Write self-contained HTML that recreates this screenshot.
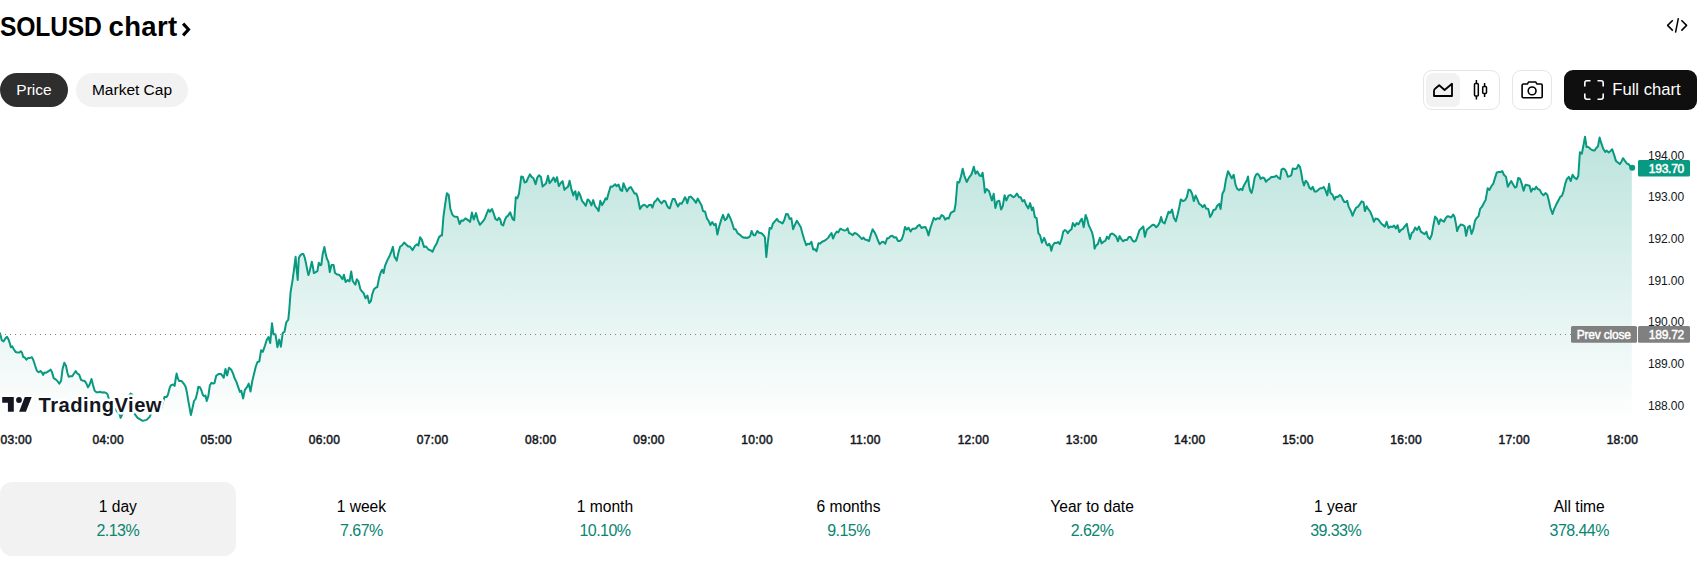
<!DOCTYPE html>
<html><head><meta charset="utf-8"><title>SOLUSD chart</title>
<style>
html,body{margin:0;padding:0;background:#fff;}
body{width:1705px;height:568px;position:relative;overflow:hidden;font-family:"Liberation Sans",Arial,sans-serif;color:#131722;}
.abs{position:absolute;}
#title{position:absolute;left:0;top:9.7px;width:200px;height:34px;font-size:27.5px;font-weight:bold;color:#000;line-height:34px;white-space:nowrap}
#t1{position:absolute;left:0px;top:0;transform-origin:0 0;transform:scaleX(0.897);letter-spacing:-0.2px}
#t2{position:absolute;left:108.6px;top:0;letter-spacing:0.3px}
.pill{position:absolute;top:73px;height:34px;border-radius:17px;font-size:15.5px;line-height:34px;white-space:nowrap;box-sizing:border-box;text-align:center}
#p1{left:0;width:68px;background:#2e2e2e;color:#fff}
#p2{left:76px;width:112px;background:#f2f2f2;color:#000}
#grp{position:absolute;left:1423px;top:70px;width:77px;height:40px;box-sizing:border-box;border:1px solid #e6e6e6;border-radius:9px}
#grpsel{position:absolute;left:1426px;top:73px;width:34px;height:34px;background:#f2f2f2;border-radius:7px}
#cam{position:absolute;left:1512px;top:70px;width:40px;height:40px;box-sizing:border-box;border:1px solid #e6e6e6;border-radius:9px}
#full{position:absolute;left:1564px;top:70px;width:133px;height:40px;background:#0f0f0f;border-radius:9px}
#fulltxt{position:absolute;left:1612.3px;top:70px;line-height:40px;font-size:16.6px;color:#fff;white-space:nowrap}
#chart{position:absolute;left:0;top:0}
.tab{position:absolute;top:482px;width:235.6px;height:74px;border-radius:12px;text-align:center}
.tab.sel{background:#f2f2f2}
.tl{position:absolute;left:0;right:0;top:15px;font-size:15.6px;line-height:20px;color:#000;white-space:nowrap}
.tv{position:absolute;left:0;right:0;top:39px;font-size:16px;letter-spacing:-0.55px;line-height:20px;color:#098571;white-space:nowrap}
</style></head><body>
<div id="title"><span id="t1">SOLUSD</span> <span id="t2">chart</span></div>
<svg class="abs" style="left:0;top:0" width="200" height="50"><path d="M183.1,23.6 L188.5,29.5 L183.1,35.4" fill="none" stroke="#000" stroke-width="3.1" stroke-linejoin="miter"/></svg>
<svg class="abs" style="left:1660px;top:10px" width="34" height="30" viewBox="1660 10 34 30"><path d="M1672.8,20.2 L1667.6,25.4 L1672.8,30.6 M1678.4,18.2 L1675.5,32.7 M1681.4,20.2 L1686.6,25.4 L1681.4,30.6" fill="none" stroke="#000" stroke-width="1.5" stroke-linecap="butt" stroke-linejoin="round"/></svg>
<div class="pill" id="p1">Price</div>
<div class="pill" id="p2">Market Cap</div>
<div id="grp"></div><div id="grpsel"></div>
<div id="cam"></div>
<div id="full"></div>
<div id="fulltxt">Full chart</div>
<svg class="abs" style="left:1420px;top:66px" width="280" height="48" viewBox="1420 66 280 48">
 <path d="M1434,96 L1434,91 Q1434,89.5 1435.3,88.5 L1439.2,85.3 L1444.6,90 L1452,83.8 L1452,96 Z" fill="none" stroke="#000" stroke-width="1.8" stroke-linejoin="round"/>
 <path d="M1476.4,80 V83.5 M1476.4,96 V99.6 M1484.6,83 V86.5 M1484.6,93.5 V97" stroke="#000" stroke-width="1.5" fill="none"/>
 <rect x="1474.5" y="83.5" width="3.8" height="12.5" rx="1" fill="none" stroke="#000" stroke-width="1.5"/>
 <rect x="1482.7" y="86.5" width="3.8" height="7" rx="1" fill="none" stroke="#000" stroke-width="1.5"/>
 <path d="M1523.5,84 H1527.5 L1528.5,82 H1535.8 L1536.8,84 H1541 Q1542.2,84 1542.2,85.2 V96.6 Q1542.2,97.8 1541,97.8 H1523.3 Q1522.1,97.8 1522.1,96.6 V85.2 Q1522.1,84 1523.5,84 Z" fill="none" stroke="#000" stroke-width="1.6" stroke-linejoin="round"/>
 <circle cx="1532.1" cy="90.9" r="3.9" fill="none" stroke="#000" stroke-width="1.6"/>
 <path d="M1584.8,86.5 V83 Q1584.8,80.8 1587,80.8 H1590.5 M1597.5,80.8 H1601 Q1603.2,80.8 1603.2,83 V86.5 M1603.2,93.5 V97 Q1603.2,99.2 1601,99.2 H1597.5 M1590.5,99.2 H1587 Q1584.8,99.2 1584.8,97 V93.5" fill="none" stroke="#fff" stroke-width="1.6"/>
</svg>
<svg id="chart" width="1705" height="470" viewBox="0 0 1705 470">
 <defs>
  <linearGradient id="g" x1="0" y1="130" x2="0" y2="424" gradientUnits="userSpaceOnUse">
   <stop offset="0" stop-color="#089981" stop-opacity="0.28"/>
   <stop offset="1" stop-color="#089981" stop-opacity="0"/>
  </linearGradient>
 </defs>
 <path d="M0.0,333.2 L1.8,340.2 L3.5,341.5 L5.3,338.5 L7.0,336.7 L8.5,339.4 L9.7,342.9 L10.9,347.3 L12.3,346.4 L14.1,349.9 L15.8,352.0 L17.6,352.6 L19.4,352.6 L20.8,351.3 L22.0,352.6 L23.2,357.0 L24.6,357.3 L26.4,359.6 L28.2,357.9 L29.9,357.9 L32.0,357.3 L33.5,360.5 L35.2,365.8 L37.0,371.0 L38.7,372.3 L40.5,371.0 L41.9,372.5 L43.1,374.9 L44.4,372.5 L45.8,372.8 L47.5,371.9 L49.3,370.7 L50.7,369.6 L51.9,371.9 L53.7,378.1 L55.5,379.3 L57.2,380.7 L59.3,383.7 L61.1,380.7 L62.5,369.3 L64.3,362.8 L66.0,365.8 L67.4,372.8 L68.7,376.7 L70.4,376.3 L72.2,376.3 L73.9,373.7 L75.7,371.1 L77.5,373.7 L79.2,374.6 L81.0,379.9 L82.7,380.7 L84.5,380.7 L86.3,383.4 L88.0,387.3 L89.8,384.3 L91.5,379.0 L93.0,385.1 L94.7,390.8 L96.5,392.2 L98.6,392.2 L100.0,391.8 L102.1,392.6 L104.5,392.3 L106.4,393.1 L107.7,394.7 L108.7,398.4 L114.0,408.0 L119.6,414.0 L120.6,417.9 L122.1,414.9 L124.1,406.9 L127.0,399.0 L130.6,393.5 L132.1,394.5 L133.1,398.4 L134.6,413.9 L137.6,417.9 L142.6,420.9 L146.6,419.9 L149.6,416.9 L151.5,412.9 L155.0,410.0 L159.5,409.9 L161.0,408.9 L162.5,403.9 L164.5,396.9 L166.6,397.0 L167.9,394.7 L169.8,387.5 L171.0,385.2 L173.4,384.4 L174.6,386.0 L175.8,378.0 L176.6,373.6 L177.7,378.0 L179.0,380.9 L181.4,380.9 L183.7,383.6 L185.6,386.8 L186.9,392.3 L188.5,401.8 L190.9,415.0 L192.5,408.1 L194.0,401.0 L195.6,399.0 L197.2,393.1 L198.3,386.8 L199.9,387.2 L201.5,390.7 L202.8,394.7 L204.3,396.3 L205.5,395.5 L206.7,401.0 L208.3,396.3 L209.9,385.2 L211.5,382.8 L213.1,383.6 L214.5,383.0 L216.2,375.7 L218.8,373.9 L220.9,373.9 L222.3,375.7 L223.7,377.8 L225.5,369.0 L227.1,375.4 L229.0,367.8 L231.1,369.5 L232.9,373.1 L234.6,378.3 L236.4,381.9 L238.2,387.1 L239.9,391.9 L241.3,390.7 L243.1,398.6 L244.9,389.8 L247.0,387.1 L248.7,383.6 L250.5,391.5 L252.3,381.0 L254.0,373.9 L255.8,366.5 L257.5,362.0 L259.3,361.6 L261.1,350.2 L262.8,351.9 L264.9,345.8 L266.7,340.1 L268.5,337.0 L270.2,343.1 L272.0,323.2 L273.4,334.3 L275.5,334.3 L277.4,347.2 L279.2,339.6 L280.9,346.7 L282.7,333.1 L284.5,331.7 L286.2,322.5 L288.3,319.7 L289.2,310.6 L290.6,292.0 L292.7,279.3 L294.2,268.0 L295.6,256.8 L296.5,268.0 L297.7,280.0 L298.8,258.2 L300.2,255.4 L301.9,253.9 L303.3,253.9 L304.7,257.5 L306.1,263.8 L307.3,270.1 L308.4,275.1 L309.6,271.5 L311.8,261.7 L312.7,265.9 L313.9,273.0 L315.3,272.3 L317.4,271.1 L318.8,262.7 L320.2,265.2 L321.3,264.9 L322.7,253.9 L324.4,246.9 L325.8,254.6 L327.0,258.9 L328.4,261.7 L329.8,272.0 L331.5,264.9 L333.6,264.9 L335.0,273.0 L337.1,274.4 L339.2,274.8 L341.1,277.2 L342.5,279.3 L343.9,274.8 L345.6,282.1 L347.7,280.0 L349.5,281.4 L351.2,271.5 L352.6,280.7 L354.0,282.8 L355.4,284.6 L356.8,279.3 L358.5,281.4 L360.4,289.2 L361.8,291.3 L363.6,293.1 L365.6,298.3 L367.4,295.5 L369.2,303.0 L370.9,301.1 L372.3,294.1 L374.0,289.2 L375.8,287.7 L377.3,287.0 L379.1,277.9 L380.8,272.3 L382.2,269.7 L383.6,273.0 L385.0,265.9 L387.4,260.1 L389.7,255.7 L391.4,251.3 L392.9,246.9 L394.4,256.6 L396.7,260.6 L398.5,252.2 L400.2,246.5 L402.0,245.5 L404.1,242.5 L406.4,244.8 L408.2,246.5 L409.9,246.5 L412.6,250.1 L414.9,246.0 L417.0,244.3 L418.4,245.5 L420.1,237.2 L421.9,239.9 L424.0,246.9 L426.1,246.5 L428.4,249.5 L430.7,250.4 L432.5,251.8 L434.6,246.9 L436.7,243.4 L439.0,237.2 L440.7,235.5 L442.0,235.5 L443.4,217.0 L445.1,204.6 L446.9,193.2 L448.7,195.0 L450.4,209.0 L452.2,214.3 L454.3,216.6 L457.5,217.0 L459.6,224.0 L461.3,220.5 L463.1,220.8 L465.4,218.4 L468.0,220.1 L470.1,221.9 L471.9,212.6 L473.7,219.6 L476.0,213.1 L477.7,219.6 L479.9,224.8 L481.8,222.7 L483.5,220.6 L484.9,218.5 L486.5,214.2 L488.4,209.6 L489.8,211.8 L491.9,209.0 L493.3,212.4 L495.4,218.9 L497.3,220.3 L498.9,217.7 L500.4,219.9 L501.5,224.5 L503.2,225.5 L504.9,219.9 L506.3,217.0 L508.1,215.6 L510.2,212.4 L511.6,216.3 L512.7,219.2 L514.2,220.3 L515.8,197.3 L517.3,198.3 L518.9,193.8 L520.1,185.4 L521.2,176.6 L522.9,176.9 L524.6,182.5 L526.4,181.8 L528.2,177.6 L529.9,174.4 L531.6,176.9 L533.5,178.3 L535.6,184.2 L537.3,177.6 L539.1,175.2 L540.9,176.9 L542.6,186.5 L544.3,185.1 L546.1,183.2 L548.0,175.8 L549.6,183.2 L551.8,180.4 L553.6,177.6 L555.3,181.8 L557.0,177.2 L558.8,186.1 L560.6,183.2 L562.6,181.1 L564.4,189.9 L566.3,187.9 L568.0,186.8 L569.6,180.8 L571.5,189.6 L573.3,195.5 L574.2,192.4 L575.4,191.3 L576.8,199.4 L578.7,192.1 L580.1,194.9 L582.0,200.8 L583.8,203.0 L585.8,205.8 L587.6,199.4 L589.4,200.8 L591.4,205.4 L593.2,200.1 L595.1,206.2 L596.8,208.2 L598.6,211.0 L600.3,200.8 L602.1,205.1 L603.8,202.3 L605.5,198.3 L606.9,199.4 L608.7,192.7 L610.6,186.5 L612.3,186.8 L613.7,185.6 L615.1,184.2 L616.5,186.1 L618.6,184.6 L620.4,189.9 L622.1,191.0 L623.5,183.2 L625.2,187.5 L627.0,191.3 L628.9,188.2 L630.8,187.0 L632.7,190.3 L634.5,193.5 L636.2,193.5 L637.6,196.9 L639.0,203.7 L640.0,209.0 L641.8,206.2 L643.9,204.8 L645.4,205.4 L647.2,207.2 L648.9,205.1 L651.0,204.8 L652.4,207.6 L654.2,202.3 L655.9,200.8 L657.6,198.3 L659.4,200.8 L661.5,203.4 L663.7,200.8 L665.5,201.5 L667.2,205.8 L668.9,208.2 L669.9,208.2 L671.3,203.2 L672.7,199.0 L674.6,199.0 L676.3,203.2 L678.0,206.5 L679.8,203.2 L681.6,203.7 L683.3,200.8 L685.0,197.2 L686.1,199.0 L687.3,203.2 L689.0,197.2 L690.6,196.6 L692.5,198.3 L694.3,200.4 L696.0,202.8 L697.7,198.6 L699.5,201.8 L701.6,205.4 L703.0,211.0 L705.1,211.7 L707.0,218.7 L708.7,220.8 L710.4,225.1 L712.2,222.0 L714.0,225.1 L715.7,223.9 L717.4,234.6 L719.2,226.5 L721.1,220.1 L723.0,214.9 L724.9,220.1 L726.7,218.7 L728.4,214.1 L730.1,217.7 L731.9,222.3 L734.0,229.3 L735.7,229.3 L737.5,233.2 L739.6,234.6 L741.8,236.6 L743.6,237.7 L745.3,237.5 L747.0,238.0 L749.2,237.0 L750.2,236.1 L751.6,231.0 L753.5,235.2 L755.1,235.2 L757.3,231.0 L759.1,232.8 L761.5,233.2 L763.6,235.2 L764.9,237.2 L766.3,256.9 L767.7,243.5 L769.6,228.0 L771.3,228.7 L773.0,223.5 L774.8,221.3 L776.9,218.9 L778.6,221.3 L780.4,222.1 L782.5,223.5 L784.2,220.3 L786.1,213.9 L787.9,214.2 L789.6,218.9 L791.3,218.2 L793.1,229.2 L794.9,224.9 L796.9,220.7 L798.7,223.8 L800.8,227.3 L802.5,233.7 L804.4,240.0 L806.2,245.2 L807.9,243.8 L809.6,244.2 L811.4,241.8 L813.2,249.4 L814.9,249.2 L816.6,251.3 L818.5,243.2 L820.3,243.5 L822.0,241.8 L824.1,241.0 L826.2,239.6 L828.3,237.6 L830.1,234.8 L831.5,233.0 L833.0,238.6 L834.6,234.8 L836.8,231.5 L838.2,232.5 L840.3,228.7 L842.4,229.7 L844.5,230.6 L846.2,230.1 L847.6,228.3 L849.0,233.0 L850.8,233.7 L852.7,235.1 L854.6,233.0 L856.9,233.9 L858.6,235.4 L860.6,237.6 L862.0,239.0 L863.5,237.6 L865.1,239.6 L867.0,240.0 L869.1,241.0 L870.8,234.8 L872.6,229.4 L874.4,232.0 L876.1,235.4 L877.8,240.0 L879.6,244.2 L881.8,242.1 L883.5,241.8 L885.3,243.8 L887.1,238.2 L888.8,238.2 L890.5,236.2 L892.3,235.8 L894.2,237.6 L896.1,237.2 L898.0,241.0 L899.8,241.0 L901.8,239.3 L903.6,233.7 L905.0,226.9 L906.8,229.7 L908.5,227.7 L910.6,231.5 L912.5,228.7 L914.4,228.7 L916.3,228.0 L917.7,225.9 L919.5,224.9 L921.5,228.0 L923.3,227.3 L925.4,226.9 L927.1,230.6 L928.5,235.4 L930.4,228.0 L932.2,222.7 L933.9,217.9 L935.6,219.6 L937.8,218.2 L939.5,218.9 L941.6,215.1 L943.5,216.1 L945.1,219.6 L947.3,217.9 L948.7,218.5 L950.8,212.8 L952.5,211.8 L954.3,211.1 L955.6,204.0 L957.4,182.0 L959.2,182.5 L960.9,176.7 L962.7,168.8 L964.4,175.8 L966.7,182.0 L969.0,177.6 L971.5,174.4 L973.8,166.7 L975.5,173.7 L977.3,171.4 L979.6,175.5 L981.3,176.2 L982.6,172.7 L983.8,182.0 L984.9,192.6 L986.6,189.0 L989.1,191.3 L991.9,200.5 L993.7,193.8 L995.4,207.9 L997.2,201.4 L999.3,200.8 L1001.1,209.6 L1002.8,206.1 L1004.6,195.2 L1006.3,200.5 L1008.5,195.6 L1010.7,194.9 L1013.4,197.3 L1015.1,196.1 L1016.9,193.5 L1019.0,197.3 L1020.8,197.3 L1022.5,201.4 L1024.3,200.1 L1026.1,204.9 L1028.3,208.4 L1030.1,203.1 L1031.9,210.2 L1033.1,207.5 L1034.9,217.2 L1036.6,218.1 L1038.4,233.1 L1040.1,235.4 L1041.9,242.7 L1044.2,237.8 L1046.5,244.2 L1047.8,245.5 L1049.2,243.7 L1050.4,246.2 L1051.3,250.7 L1052.7,245.5 L1054.6,242.7 L1056.3,243.1 L1058.0,242.0 L1059.8,244.1 L1061.6,239.2 L1063.3,231.4 L1065.0,230.0 L1066.4,231.0 L1067.8,233.2 L1069.6,230.7 L1071.5,229.3 L1072.9,223.0 L1074.9,226.2 L1076.7,223.0 L1078.5,224.4 L1080.2,221.1 L1081.9,218.7 L1083.7,227.2 L1085.6,214.9 L1087.3,219.4 L1088.9,225.8 L1090.4,228.6 L1092.2,232.8 L1093.6,239.2 L1094.6,248.7 L1096.0,245.5 L1097.8,244.1 L1099.9,237.7 L1101.6,243.4 L1103.5,241.7 L1105.3,240.8 L1107.0,236.6 L1108.7,238.9 L1110.5,234.2 L1112.3,233.5 L1114.3,234.9 L1116.1,236.6 L1118.0,241.3 L1119.6,236.1 L1121.3,239.2 L1123.2,241.3 L1125.0,239.9 L1127.0,239.9 L1128.8,237.0 L1130.6,237.0 L1132.3,240.3 L1134.0,241.7 L1135.8,240.8 L1137.7,235.6 L1139.4,230.4 L1141.5,228.2 L1143.3,226.5 L1144.9,236.8 L1146.8,229.7 L1148.5,228.3 L1150.6,226.5 L1152.7,224.8 L1154.4,225.1 L1156.2,227.3 L1158.0,225.5 L1159.7,222.3 L1161.1,217.0 L1162.5,222.0 L1164.6,223.4 L1166.5,218.0 L1168.5,211.8 L1170.3,212.8 L1172.1,209.6 L1173.8,217.7 L1175.9,221.3 L1177.7,214.2 L1179.4,206.5 L1180.8,199.4 L1183.0,201.1 L1185.1,200.1 L1186.8,197.3 L1188.6,189.6 L1190.4,190.3 L1192.1,193.8 L1193.8,201.1 L1195.6,195.5 L1197.5,199.7 L1199.2,203.9 L1200.8,204.8 L1202.7,207.2 L1204.5,204.8 L1206.2,208.6 L1208.3,209.0 L1210.1,217.0 L1211.8,214.2 L1213.5,210.0 L1215.4,209.6 L1217.2,205.8 L1219.2,203.9 L1220.6,209.0 L1222.4,193.8 L1224.2,190.3 L1225.9,179.7 L1228.0,171.3 L1229.9,174.8 L1231.8,178.3 L1233.7,174.8 L1235.5,184.6 L1237.2,188.9 L1239.2,190.1 L1240.6,188.7 L1242.3,190.1 L1243.7,185.9 L1245.6,182.4 L1247.0,179.9 L1248.0,176.5 L1249.1,185.9 L1250.2,190.8 L1251.6,193.0 L1253.0,187.3 L1254.7,177.5 L1256.1,174.6 L1257.5,173.7 L1259.2,175.4 L1260.6,178.9 L1262.5,177.5 L1264.3,178.2 L1266.0,181.7 L1267.7,179.9 L1269.5,178.9 L1271.3,177.0 L1273.3,177.0 L1275.1,176.5 L1276.5,175.6 L1278.0,177.5 L1280.1,178.9 L1281.5,169.7 L1283.2,168.6 L1285.0,169.7 L1286.4,172.3 L1287.8,176.8 L1289.9,176.1 L1291.3,175.1 L1292.7,168.6 L1294.9,169.0 L1296.7,168.6 L1298.4,164.8 L1300.1,167.2 L1301.2,172.5 L1302.6,181.0 L1304.0,185.5 L1305.7,180.7 L1307.5,182.7 L1309.4,187.7 L1311.1,189.4 L1312.7,186.9 L1314.6,191.5 L1316.4,191.5 L1318.4,189.7 L1320.2,188.3 L1322.0,188.3 L1323.7,186.9 L1325.4,190.1 L1327.3,195.4 L1329.1,183.8 L1330.5,193.0 L1332.5,194.8 L1334.5,199.6 L1335.9,196.8 L1337.7,197.0 L1339.6,195.1 L1341.3,196.1 L1343.0,199.9 L1344.4,202.1 L1345.8,202.1 L1347.2,200.7 L1348.6,206.6 L1350.0,209.4 L1351.1,211.5 L1352.5,215.8 L1354.2,211.5 L1356.1,207.7 L1357.9,206.9 L1359.9,204.1 L1361.7,201.3 L1363.5,202.1 L1364.9,211.1 L1366.6,206.3 L1368.3,209.2 L1370.1,211.5 L1372.0,215.8 L1373.9,221.8 L1375.4,218.6 L1377.6,219.0 L1379.3,220.7 L1381.0,223.2 L1382.8,224.9 L1384.9,226.6 L1386.6,221.8 L1388.5,228.0 L1390.3,226.6 L1392.3,227.0 L1394.1,225.6 L1395.9,228.5 L1397.6,225.2 L1399.3,232.0 L1401.1,229.9 L1403.0,228.9 L1404.9,226.1 L1406.8,223.8 L1408.2,231.3 L1410.0,239.0 L1411.7,233.1 L1413.4,231.7 L1415.2,227.5 L1417.0,229.9 L1419.0,226.6 L1420.8,231.7 L1423.0,233.1 L1424.6,234.1 L1426.4,231.8 L1427.8,236.8 L1429.9,239.2 L1431.8,234.6 L1433.2,226.2 L1435.1,216.6 L1437.0,218.9 L1438.8,224.1 L1440.5,219.4 L1442.2,220.6 L1444.0,221.7 L1445.8,218.0 L1447.5,216.3 L1449.2,216.6 L1451.1,217.5 L1453.2,214.6 L1454.6,217.0 L1456.0,224.1 L1457.1,231.1 L1458.8,226.9 L1460.9,224.5 L1463.0,225.1 L1464.7,226.5 L1466.1,235.8 L1468.0,227.3 L1469.8,225.9 L1471.5,233.9 L1473.2,229.7 L1475.0,220.8 L1476.8,217.7 L1478.5,216.3 L1480.2,208.6 L1482.0,206.8 L1483.9,203.0 L1485.6,200.1 L1487.7,188.2 L1489.5,189.9 L1491.2,186.5 L1493.3,183.7 L1495.1,177.6 L1496.8,172.4 L1498.9,172.0 L1500.8,172.0 L1502.2,171.0 L1503.9,174.8 L1506.0,176.9 L1507.8,186.8 L1509.5,183.7 L1511.2,181.1 L1513.0,184.2 L1514.9,187.5 L1516.5,186.8 L1518.2,178.0 L1520.1,179.0 L1521.9,184.2 L1523.6,190.7 L1525.5,184.7 L1527.6,185.2 L1529.5,185.8 L1531.1,191.8 L1532.7,188.6 L1534.6,189.4 L1536.2,186.7 L1537.7,189.0 L1539.8,189.9 L1541.4,193.1 L1543.5,195.3 L1545.4,193.1 L1547.3,194.7 L1548.8,200.5 L1550.4,208.0 L1552.5,214.0 L1554.1,209.2 L1556.1,204.8 L1558.4,200.5 L1560.4,196.6 L1562.0,195.8 L1563.6,191.0 L1565.2,183.9 L1566.8,179.1 L1568.8,176.8 L1570.7,181.0 L1572.6,174.7 L1574.7,177.9 L1576.7,179.1 L1578.3,176.0 L1579.9,152.2 L1581.8,153.8 L1583.4,145.8 L1585.0,136.7 L1586.6,147.1 L1588.5,147.1 L1590.5,149.0 L1592.6,150.3 L1594.5,150.6 L1596.1,148.2 L1598.0,146.2 L1599.6,137.6 L1601.1,142.7 L1603.2,148.7 L1605.3,151.9 L1606.8,150.6 L1608.7,152.5 L1610.6,150.9 L1612.2,149.3 L1614.3,155.4 L1615.9,160.9 L1617.9,162.5 L1619.8,164.1 L1621.4,161.7 L1623.0,158.2 L1624.9,160.9 L1627.0,163.6 L1629.0,164.5 L1630.6,167.1 L1631.8,167.7 L1631.8,424 L0,424 Z" fill="url(#g)" stroke="none"/>
 <path d="M0.0,333.2 L1.8,340.2 L3.5,341.5 L5.3,338.5 L7.0,336.7 L8.5,339.4 L9.7,342.9 L10.9,347.3 L12.3,346.4 L14.1,349.9 L15.8,352.0 L17.6,352.6 L19.4,352.6 L20.8,351.3 L22.0,352.6 L23.2,357.0 L24.6,357.3 L26.4,359.6 L28.2,357.9 L29.9,357.9 L32.0,357.3 L33.5,360.5 L35.2,365.8 L37.0,371.0 L38.7,372.3 L40.5,371.0 L41.9,372.5 L43.1,374.9 L44.4,372.5 L45.8,372.8 L47.5,371.9 L49.3,370.7 L50.7,369.6 L51.9,371.9 L53.7,378.1 L55.5,379.3 L57.2,380.7 L59.3,383.7 L61.1,380.7 L62.5,369.3 L64.3,362.8 L66.0,365.8 L67.4,372.8 L68.7,376.7 L70.4,376.3 L72.2,376.3 L73.9,373.7 L75.7,371.1 L77.5,373.7 L79.2,374.6 L81.0,379.9 L82.7,380.7 L84.5,380.7 L86.3,383.4 L88.0,387.3 L89.8,384.3 L91.5,379.0 L93.0,385.1 L94.7,390.8 L96.5,392.2 L98.6,392.2 L100.0,391.8 L102.1,392.6 L104.5,392.3 L106.4,393.1 L107.7,394.7 L108.7,398.4 L114.0,408.0 L119.6,414.0 L120.6,417.9 L122.1,414.9 L124.1,406.9 L127.0,399.0 L130.6,393.5 L132.1,394.5 L133.1,398.4 L134.6,413.9 L137.6,417.9 L142.6,420.9 L146.6,419.9 L149.6,416.9 L151.5,412.9 L155.0,410.0 L159.5,409.9 L161.0,408.9 L162.5,403.9 L164.5,396.9 L166.6,397.0 L167.9,394.7 L169.8,387.5 L171.0,385.2 L173.4,384.4 L174.6,386.0 L175.8,378.0 L176.6,373.6 L177.7,378.0 L179.0,380.9 L181.4,380.9 L183.7,383.6 L185.6,386.8 L186.9,392.3 L188.5,401.8 L190.9,415.0 L192.5,408.1 L194.0,401.0 L195.6,399.0 L197.2,393.1 L198.3,386.8 L199.9,387.2 L201.5,390.7 L202.8,394.7 L204.3,396.3 L205.5,395.5 L206.7,401.0 L208.3,396.3 L209.9,385.2 L211.5,382.8 L213.1,383.6 L214.5,383.0 L216.2,375.7 L218.8,373.9 L220.9,373.9 L222.3,375.7 L223.7,377.8 L225.5,369.0 L227.1,375.4 L229.0,367.8 L231.1,369.5 L232.9,373.1 L234.6,378.3 L236.4,381.9 L238.2,387.1 L239.9,391.9 L241.3,390.7 L243.1,398.6 L244.9,389.8 L247.0,387.1 L248.7,383.6 L250.5,391.5 L252.3,381.0 L254.0,373.9 L255.8,366.5 L257.5,362.0 L259.3,361.6 L261.1,350.2 L262.8,351.9 L264.9,345.8 L266.7,340.1 L268.5,337.0 L270.2,343.1 L272.0,323.2 L273.4,334.3 L275.5,334.3 L277.4,347.2 L279.2,339.6 L280.9,346.7 L282.7,333.1 L284.5,331.7 L286.2,322.5 L288.3,319.7 L289.2,310.6 L290.6,292.0 L292.7,279.3 L294.2,268.0 L295.6,256.8 L296.5,268.0 L297.7,280.0 L298.8,258.2 L300.2,255.4 L301.9,253.9 L303.3,253.9 L304.7,257.5 L306.1,263.8 L307.3,270.1 L308.4,275.1 L309.6,271.5 L311.8,261.7 L312.7,265.9 L313.9,273.0 L315.3,272.3 L317.4,271.1 L318.8,262.7 L320.2,265.2 L321.3,264.9 L322.7,253.9 L324.4,246.9 L325.8,254.6 L327.0,258.9 L328.4,261.7 L329.8,272.0 L331.5,264.9 L333.6,264.9 L335.0,273.0 L337.1,274.4 L339.2,274.8 L341.1,277.2 L342.5,279.3 L343.9,274.8 L345.6,282.1 L347.7,280.0 L349.5,281.4 L351.2,271.5 L352.6,280.7 L354.0,282.8 L355.4,284.6 L356.8,279.3 L358.5,281.4 L360.4,289.2 L361.8,291.3 L363.6,293.1 L365.6,298.3 L367.4,295.5 L369.2,303.0 L370.9,301.1 L372.3,294.1 L374.0,289.2 L375.8,287.7 L377.3,287.0 L379.1,277.9 L380.8,272.3 L382.2,269.7 L383.6,273.0 L385.0,265.9 L387.4,260.1 L389.7,255.7 L391.4,251.3 L392.9,246.9 L394.4,256.6 L396.7,260.6 L398.5,252.2 L400.2,246.5 L402.0,245.5 L404.1,242.5 L406.4,244.8 L408.2,246.5 L409.9,246.5 L412.6,250.1 L414.9,246.0 L417.0,244.3 L418.4,245.5 L420.1,237.2 L421.9,239.9 L424.0,246.9 L426.1,246.5 L428.4,249.5 L430.7,250.4 L432.5,251.8 L434.6,246.9 L436.7,243.4 L439.0,237.2 L440.7,235.5 L442.0,235.5 L443.4,217.0 L445.1,204.6 L446.9,193.2 L448.7,195.0 L450.4,209.0 L452.2,214.3 L454.3,216.6 L457.5,217.0 L459.6,224.0 L461.3,220.5 L463.1,220.8 L465.4,218.4 L468.0,220.1 L470.1,221.9 L471.9,212.6 L473.7,219.6 L476.0,213.1 L477.7,219.6 L479.9,224.8 L481.8,222.7 L483.5,220.6 L484.9,218.5 L486.5,214.2 L488.4,209.6 L489.8,211.8 L491.9,209.0 L493.3,212.4 L495.4,218.9 L497.3,220.3 L498.9,217.7 L500.4,219.9 L501.5,224.5 L503.2,225.5 L504.9,219.9 L506.3,217.0 L508.1,215.6 L510.2,212.4 L511.6,216.3 L512.7,219.2 L514.2,220.3 L515.8,197.3 L517.3,198.3 L518.9,193.8 L520.1,185.4 L521.2,176.6 L522.9,176.9 L524.6,182.5 L526.4,181.8 L528.2,177.6 L529.9,174.4 L531.6,176.9 L533.5,178.3 L535.6,184.2 L537.3,177.6 L539.1,175.2 L540.9,176.9 L542.6,186.5 L544.3,185.1 L546.1,183.2 L548.0,175.8 L549.6,183.2 L551.8,180.4 L553.6,177.6 L555.3,181.8 L557.0,177.2 L558.8,186.1 L560.6,183.2 L562.6,181.1 L564.4,189.9 L566.3,187.9 L568.0,186.8 L569.6,180.8 L571.5,189.6 L573.3,195.5 L574.2,192.4 L575.4,191.3 L576.8,199.4 L578.7,192.1 L580.1,194.9 L582.0,200.8 L583.8,203.0 L585.8,205.8 L587.6,199.4 L589.4,200.8 L591.4,205.4 L593.2,200.1 L595.1,206.2 L596.8,208.2 L598.6,211.0 L600.3,200.8 L602.1,205.1 L603.8,202.3 L605.5,198.3 L606.9,199.4 L608.7,192.7 L610.6,186.5 L612.3,186.8 L613.7,185.6 L615.1,184.2 L616.5,186.1 L618.6,184.6 L620.4,189.9 L622.1,191.0 L623.5,183.2 L625.2,187.5 L627.0,191.3 L628.9,188.2 L630.8,187.0 L632.7,190.3 L634.5,193.5 L636.2,193.5 L637.6,196.9 L639.0,203.7 L640.0,209.0 L641.8,206.2 L643.9,204.8 L645.4,205.4 L647.2,207.2 L648.9,205.1 L651.0,204.8 L652.4,207.6 L654.2,202.3 L655.9,200.8 L657.6,198.3 L659.4,200.8 L661.5,203.4 L663.7,200.8 L665.5,201.5 L667.2,205.8 L668.9,208.2 L669.9,208.2 L671.3,203.2 L672.7,199.0 L674.6,199.0 L676.3,203.2 L678.0,206.5 L679.8,203.2 L681.6,203.7 L683.3,200.8 L685.0,197.2 L686.1,199.0 L687.3,203.2 L689.0,197.2 L690.6,196.6 L692.5,198.3 L694.3,200.4 L696.0,202.8 L697.7,198.6 L699.5,201.8 L701.6,205.4 L703.0,211.0 L705.1,211.7 L707.0,218.7 L708.7,220.8 L710.4,225.1 L712.2,222.0 L714.0,225.1 L715.7,223.9 L717.4,234.6 L719.2,226.5 L721.1,220.1 L723.0,214.9 L724.9,220.1 L726.7,218.7 L728.4,214.1 L730.1,217.7 L731.9,222.3 L734.0,229.3 L735.7,229.3 L737.5,233.2 L739.6,234.6 L741.8,236.6 L743.6,237.7 L745.3,237.5 L747.0,238.0 L749.2,237.0 L750.2,236.1 L751.6,231.0 L753.5,235.2 L755.1,235.2 L757.3,231.0 L759.1,232.8 L761.5,233.2 L763.6,235.2 L764.9,237.2 L766.3,256.9 L767.7,243.5 L769.6,228.0 L771.3,228.7 L773.0,223.5 L774.8,221.3 L776.9,218.9 L778.6,221.3 L780.4,222.1 L782.5,223.5 L784.2,220.3 L786.1,213.9 L787.9,214.2 L789.6,218.9 L791.3,218.2 L793.1,229.2 L794.9,224.9 L796.9,220.7 L798.7,223.8 L800.8,227.3 L802.5,233.7 L804.4,240.0 L806.2,245.2 L807.9,243.8 L809.6,244.2 L811.4,241.8 L813.2,249.4 L814.9,249.2 L816.6,251.3 L818.5,243.2 L820.3,243.5 L822.0,241.8 L824.1,241.0 L826.2,239.6 L828.3,237.6 L830.1,234.8 L831.5,233.0 L833.0,238.6 L834.6,234.8 L836.8,231.5 L838.2,232.5 L840.3,228.7 L842.4,229.7 L844.5,230.6 L846.2,230.1 L847.6,228.3 L849.0,233.0 L850.8,233.7 L852.7,235.1 L854.6,233.0 L856.9,233.9 L858.6,235.4 L860.6,237.6 L862.0,239.0 L863.5,237.6 L865.1,239.6 L867.0,240.0 L869.1,241.0 L870.8,234.8 L872.6,229.4 L874.4,232.0 L876.1,235.4 L877.8,240.0 L879.6,244.2 L881.8,242.1 L883.5,241.8 L885.3,243.8 L887.1,238.2 L888.8,238.2 L890.5,236.2 L892.3,235.8 L894.2,237.6 L896.1,237.2 L898.0,241.0 L899.8,241.0 L901.8,239.3 L903.6,233.7 L905.0,226.9 L906.8,229.7 L908.5,227.7 L910.6,231.5 L912.5,228.7 L914.4,228.7 L916.3,228.0 L917.7,225.9 L919.5,224.9 L921.5,228.0 L923.3,227.3 L925.4,226.9 L927.1,230.6 L928.5,235.4 L930.4,228.0 L932.2,222.7 L933.9,217.9 L935.6,219.6 L937.8,218.2 L939.5,218.9 L941.6,215.1 L943.5,216.1 L945.1,219.6 L947.3,217.9 L948.7,218.5 L950.8,212.8 L952.5,211.8 L954.3,211.1 L955.6,204.0 L957.4,182.0 L959.2,182.5 L960.9,176.7 L962.7,168.8 L964.4,175.8 L966.7,182.0 L969.0,177.6 L971.5,174.4 L973.8,166.7 L975.5,173.7 L977.3,171.4 L979.6,175.5 L981.3,176.2 L982.6,172.7 L983.8,182.0 L984.9,192.6 L986.6,189.0 L989.1,191.3 L991.9,200.5 L993.7,193.8 L995.4,207.9 L997.2,201.4 L999.3,200.8 L1001.1,209.6 L1002.8,206.1 L1004.6,195.2 L1006.3,200.5 L1008.5,195.6 L1010.7,194.9 L1013.4,197.3 L1015.1,196.1 L1016.9,193.5 L1019.0,197.3 L1020.8,197.3 L1022.5,201.4 L1024.3,200.1 L1026.1,204.9 L1028.3,208.4 L1030.1,203.1 L1031.9,210.2 L1033.1,207.5 L1034.9,217.2 L1036.6,218.1 L1038.4,233.1 L1040.1,235.4 L1041.9,242.7 L1044.2,237.8 L1046.5,244.2 L1047.8,245.5 L1049.2,243.7 L1050.4,246.2 L1051.3,250.7 L1052.7,245.5 L1054.6,242.7 L1056.3,243.1 L1058.0,242.0 L1059.8,244.1 L1061.6,239.2 L1063.3,231.4 L1065.0,230.0 L1066.4,231.0 L1067.8,233.2 L1069.6,230.7 L1071.5,229.3 L1072.9,223.0 L1074.9,226.2 L1076.7,223.0 L1078.5,224.4 L1080.2,221.1 L1081.9,218.7 L1083.7,227.2 L1085.6,214.9 L1087.3,219.4 L1088.9,225.8 L1090.4,228.6 L1092.2,232.8 L1093.6,239.2 L1094.6,248.7 L1096.0,245.5 L1097.8,244.1 L1099.9,237.7 L1101.6,243.4 L1103.5,241.7 L1105.3,240.8 L1107.0,236.6 L1108.7,238.9 L1110.5,234.2 L1112.3,233.5 L1114.3,234.9 L1116.1,236.6 L1118.0,241.3 L1119.6,236.1 L1121.3,239.2 L1123.2,241.3 L1125.0,239.9 L1127.0,239.9 L1128.8,237.0 L1130.6,237.0 L1132.3,240.3 L1134.0,241.7 L1135.8,240.8 L1137.7,235.6 L1139.4,230.4 L1141.5,228.2 L1143.3,226.5 L1144.9,236.8 L1146.8,229.7 L1148.5,228.3 L1150.6,226.5 L1152.7,224.8 L1154.4,225.1 L1156.2,227.3 L1158.0,225.5 L1159.7,222.3 L1161.1,217.0 L1162.5,222.0 L1164.6,223.4 L1166.5,218.0 L1168.5,211.8 L1170.3,212.8 L1172.1,209.6 L1173.8,217.7 L1175.9,221.3 L1177.7,214.2 L1179.4,206.5 L1180.8,199.4 L1183.0,201.1 L1185.1,200.1 L1186.8,197.3 L1188.6,189.6 L1190.4,190.3 L1192.1,193.8 L1193.8,201.1 L1195.6,195.5 L1197.5,199.7 L1199.2,203.9 L1200.8,204.8 L1202.7,207.2 L1204.5,204.8 L1206.2,208.6 L1208.3,209.0 L1210.1,217.0 L1211.8,214.2 L1213.5,210.0 L1215.4,209.6 L1217.2,205.8 L1219.2,203.9 L1220.6,209.0 L1222.4,193.8 L1224.2,190.3 L1225.9,179.7 L1228.0,171.3 L1229.9,174.8 L1231.8,178.3 L1233.7,174.8 L1235.5,184.6 L1237.2,188.9 L1239.2,190.1 L1240.6,188.7 L1242.3,190.1 L1243.7,185.9 L1245.6,182.4 L1247.0,179.9 L1248.0,176.5 L1249.1,185.9 L1250.2,190.8 L1251.6,193.0 L1253.0,187.3 L1254.7,177.5 L1256.1,174.6 L1257.5,173.7 L1259.2,175.4 L1260.6,178.9 L1262.5,177.5 L1264.3,178.2 L1266.0,181.7 L1267.7,179.9 L1269.5,178.9 L1271.3,177.0 L1273.3,177.0 L1275.1,176.5 L1276.5,175.6 L1278.0,177.5 L1280.1,178.9 L1281.5,169.7 L1283.2,168.6 L1285.0,169.7 L1286.4,172.3 L1287.8,176.8 L1289.9,176.1 L1291.3,175.1 L1292.7,168.6 L1294.9,169.0 L1296.7,168.6 L1298.4,164.8 L1300.1,167.2 L1301.2,172.5 L1302.6,181.0 L1304.0,185.5 L1305.7,180.7 L1307.5,182.7 L1309.4,187.7 L1311.1,189.4 L1312.7,186.9 L1314.6,191.5 L1316.4,191.5 L1318.4,189.7 L1320.2,188.3 L1322.0,188.3 L1323.7,186.9 L1325.4,190.1 L1327.3,195.4 L1329.1,183.8 L1330.5,193.0 L1332.5,194.8 L1334.5,199.6 L1335.9,196.8 L1337.7,197.0 L1339.6,195.1 L1341.3,196.1 L1343.0,199.9 L1344.4,202.1 L1345.8,202.1 L1347.2,200.7 L1348.6,206.6 L1350.0,209.4 L1351.1,211.5 L1352.5,215.8 L1354.2,211.5 L1356.1,207.7 L1357.9,206.9 L1359.9,204.1 L1361.7,201.3 L1363.5,202.1 L1364.9,211.1 L1366.6,206.3 L1368.3,209.2 L1370.1,211.5 L1372.0,215.8 L1373.9,221.8 L1375.4,218.6 L1377.6,219.0 L1379.3,220.7 L1381.0,223.2 L1382.8,224.9 L1384.9,226.6 L1386.6,221.8 L1388.5,228.0 L1390.3,226.6 L1392.3,227.0 L1394.1,225.6 L1395.9,228.5 L1397.6,225.2 L1399.3,232.0 L1401.1,229.9 L1403.0,228.9 L1404.9,226.1 L1406.8,223.8 L1408.2,231.3 L1410.0,239.0 L1411.7,233.1 L1413.4,231.7 L1415.2,227.5 L1417.0,229.9 L1419.0,226.6 L1420.8,231.7 L1423.0,233.1 L1424.6,234.1 L1426.4,231.8 L1427.8,236.8 L1429.9,239.2 L1431.8,234.6 L1433.2,226.2 L1435.1,216.6 L1437.0,218.9 L1438.8,224.1 L1440.5,219.4 L1442.2,220.6 L1444.0,221.7 L1445.8,218.0 L1447.5,216.3 L1449.2,216.6 L1451.1,217.5 L1453.2,214.6 L1454.6,217.0 L1456.0,224.1 L1457.1,231.1 L1458.8,226.9 L1460.9,224.5 L1463.0,225.1 L1464.7,226.5 L1466.1,235.8 L1468.0,227.3 L1469.8,225.9 L1471.5,233.9 L1473.2,229.7 L1475.0,220.8 L1476.8,217.7 L1478.5,216.3 L1480.2,208.6 L1482.0,206.8 L1483.9,203.0 L1485.6,200.1 L1487.7,188.2 L1489.5,189.9 L1491.2,186.5 L1493.3,183.7 L1495.1,177.6 L1496.8,172.4 L1498.9,172.0 L1500.8,172.0 L1502.2,171.0 L1503.9,174.8 L1506.0,176.9 L1507.8,186.8 L1509.5,183.7 L1511.2,181.1 L1513.0,184.2 L1514.9,187.5 L1516.5,186.8 L1518.2,178.0 L1520.1,179.0 L1521.9,184.2 L1523.6,190.7 L1525.5,184.7 L1527.6,185.2 L1529.5,185.8 L1531.1,191.8 L1532.7,188.6 L1534.6,189.4 L1536.2,186.7 L1537.7,189.0 L1539.8,189.9 L1541.4,193.1 L1543.5,195.3 L1545.4,193.1 L1547.3,194.7 L1548.8,200.5 L1550.4,208.0 L1552.5,214.0 L1554.1,209.2 L1556.1,204.8 L1558.4,200.5 L1560.4,196.6 L1562.0,195.8 L1563.6,191.0 L1565.2,183.9 L1566.8,179.1 L1568.8,176.8 L1570.7,181.0 L1572.6,174.7 L1574.7,177.9 L1576.7,179.1 L1578.3,176.0 L1579.9,152.2 L1581.8,153.8 L1583.4,145.8 L1585.0,136.7 L1586.6,147.1 L1588.5,147.1 L1590.5,149.0 L1592.6,150.3 L1594.5,150.6 L1596.1,148.2 L1598.0,146.2 L1599.6,137.6 L1601.1,142.7 L1603.2,148.7 L1605.3,151.9 L1606.8,150.6 L1608.7,152.5 L1610.6,150.9 L1612.2,149.3 L1614.3,155.4 L1615.9,160.9 L1617.9,162.5 L1619.8,164.1 L1621.4,161.7 L1623.0,158.2 L1624.9,160.9 L1627.0,163.6 L1629.0,164.5 L1630.6,167.1 L1631.8,167.7" fill="none" stroke="#089981" stroke-width="2" stroke-linejoin="round" stroke-linecap="round"/>
 <line x1="0" y1="334.5" x2="1571" y2="334.5" stroke="#808080" stroke-width="1" stroke-dasharray="1 4"/>
 <circle cx="1632.2" cy="167.7" r="3" fill="#089981"/>
 <g font-family="Liberation Sans, Arial, sans-serif" font-size="12" letter-spacing="-0.1" fill="#131722"><text x="1684" y="160.1" text-anchor="end">194.00</text><text x="1684" y="201.3" text-anchor="end">193.00</text><text x="1684" y="242.9" text-anchor="end">192.00</text><text x="1684" y="284.6" text-anchor="end">191.00</text><text x="1684" y="326.3" text-anchor="end">190.00</text><text x="1684" y="367.9" text-anchor="end">189.00</text><text x="1684" y="409.6" text-anchor="end">188.00</text></g>
 <rect x="1638" y="160" width="52" height="16.6" rx="1.5" fill="#089981"/>
 <text x="1684" y="172.6" text-anchor="end" font-family="Liberation Sans, Arial, sans-serif" font-size="12" letter-spacing="-0.25" fill="#fff" stroke="#fff" stroke-width="0.5">193.70</text>
 <rect x="1571" y="326" width="66" height="16.7" rx="1.5" fill="#808080"/>
 <rect x="1638" y="326" width="52" height="16.7" rx="1.5" fill="#808080"/>
 <text x="1603.7" y="338.6" text-anchor="middle" font-family="Liberation Sans, Arial, sans-serif" font-size="12" letter-spacing="-0.2" fill="#fff" stroke="#fff" stroke-width="0.45">Prev close</text>
 <text x="1684" y="338.6" text-anchor="end" font-family="Liberation Sans, Arial, sans-serif" font-size="12" letter-spacing="-0.25" fill="#fff" stroke="#fff" stroke-width="0.45">189.72</text>
 <g font-family="Liberation Sans, Arial, sans-serif" font-size="12" letter-spacing="0.3" fill="#131722" stroke="#131722" stroke-width="0.5"><text x="0.5" y="444" text-anchor="start">03:00</text><text x="108.2" y="444" text-anchor="middle">04:00</text><text x="216.3" y="444" text-anchor="middle">05:00</text><text x="324.5" y="444" text-anchor="middle">06:00</text><text x="432.6" y="444" text-anchor="middle">07:00</text><text x="540.8" y="444" text-anchor="middle">08:00</text><text x="649.0" y="444" text-anchor="middle">09:00</text><text x="757.1" y="444" text-anchor="middle">10:00</text><text x="865.3" y="444" text-anchor="middle">11:00</text><text x="973.4" y="444" text-anchor="middle">12:00</text><text x="1081.6" y="444" text-anchor="middle">13:00</text><text x="1189.8" y="444" text-anchor="middle">14:00</text><text x="1297.9" y="444" text-anchor="middle">15:00</text><text x="1406.1" y="444" text-anchor="middle">16:00</text><text x="1514.2" y="444" text-anchor="middle">17:00</text><text x="1622.4" y="444" text-anchor="middle">18:00</text></g>
 <g stroke="#fff" stroke-width="5" stroke-linejoin="round" fill="#fff">
  <path d="M2.2,397.1 H13.8 V411.8 H7.9 V402.7 H2.2 Z"/>
  <circle cx="19" cy="400" r="2.9"/>
  <path d="M24.8,397.1 H31.7 L25.9,411.8 H19.1 Z"/>
 </g>
 <g fill="#131722">
  <path d="M2.2,397.1 H13.8 V411.8 H7.9 V402.7 H2.2 Z"/>
  <circle cx="19" cy="400" r="2.9"/>
  <path d="M24.8,397.1 H31.7 L25.9,411.8 H19.1 Z"/>
  <text x="38.5" y="411.8" font-family="Liberation Sans, Arial, sans-serif" font-size="20.2" font-weight="bold" letter-spacing="0.45" stroke="#fff" stroke-width="5" stroke-linejoin="round" paint-order="stroke">TradingView</text>
 </g>
</svg>
<div class="tab sel" style="left:0.00px"><div class="tl">1 day</div><div class="tv">2.13%</div></div>
<div class="tab" style="left:243.57px"><div class="tl">1 week</div><div class="tv">7.67%</div></div>
<div class="tab" style="left:487.14px"><div class="tl">1 month</div><div class="tv">10.10%</div></div>
<div class="tab" style="left:730.71px"><div class="tl">6 months</div><div class="tv">9.15%</div></div>
<div class="tab" style="left:974.28px"><div class="tl">Year to date</div><div class="tv">2.62%</div></div>
<div class="tab" style="left:1217.85px"><div class="tl">1 year</div><div class="tv">39.33%</div></div>
<div class="tab" style="left:1461.42px"><div class="tl">All time</div><div class="tv">378.44%</div></div>

</body></html>
